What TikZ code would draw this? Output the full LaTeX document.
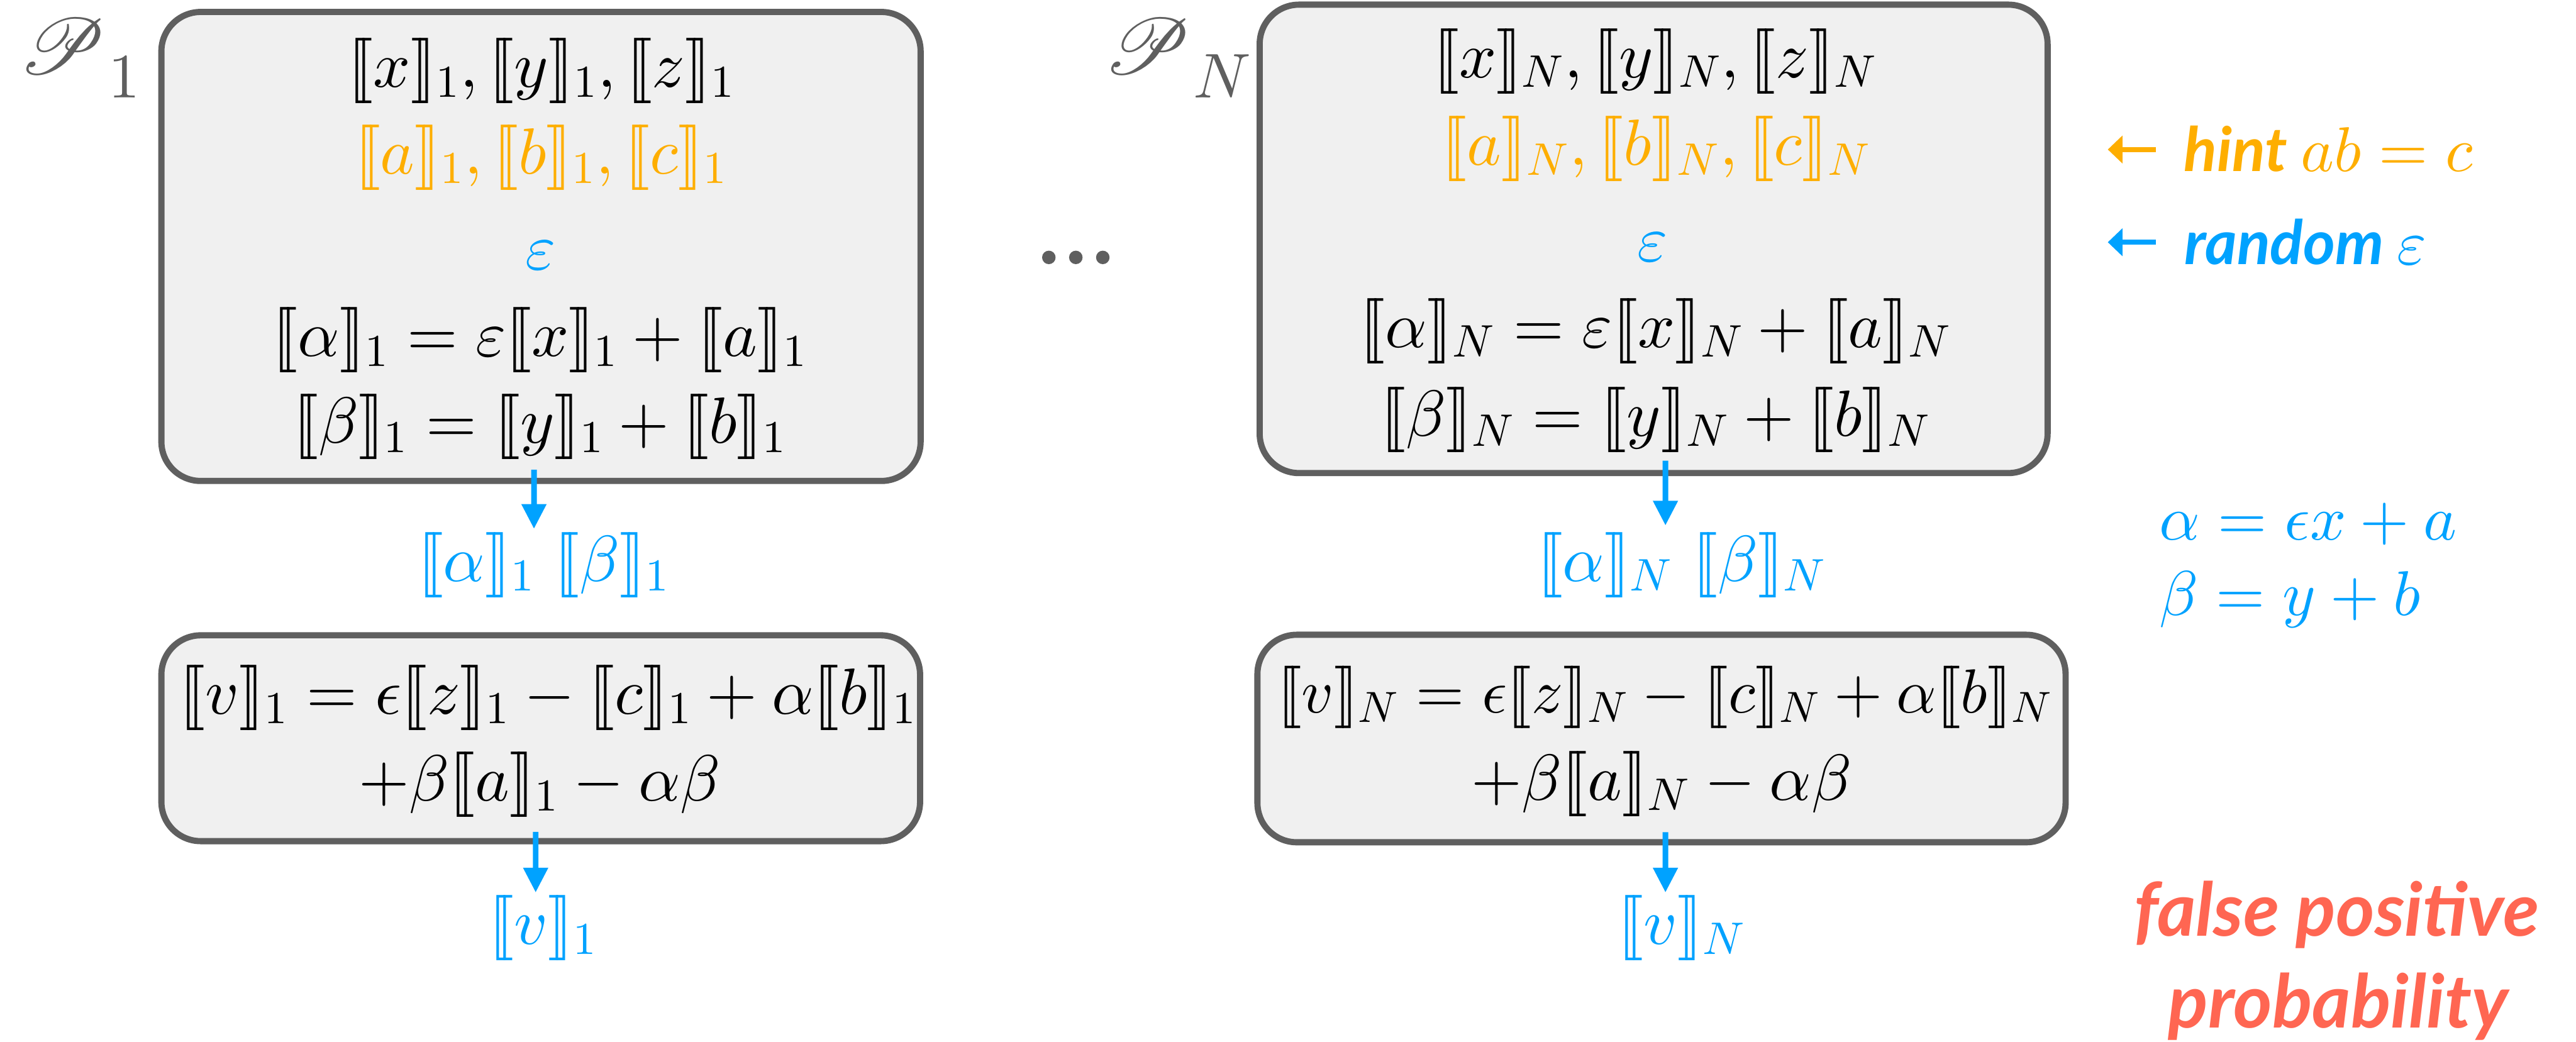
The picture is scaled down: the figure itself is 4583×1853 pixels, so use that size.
\documentclass[tikz,border=0pt]{standalone}
\usepackage[no-math]{fontspec}
\usepackage{mathrsfs}
\DeclareFontFamily{U}{rsfs}{\skewchar\font127 }
\DeclareFontShape{U}{rsfs}{m}{n}{<-> rsfs10}{}
\DeclareFontShape{OML}{cmm}{m}{it}{<-> cmmi10}{}
\DeclareFontShape{OMS}{cmsy}{m}{n}{<-> cmsy10}{}
\DeclareFontShape{OT1}{cmr}{m}{n}{<-> cmr10}{}
\DeclareFontShape{OMX}{cmex}{m}{n}{<-> cmex10}{}
\newfontfamily\lato{Lato}
\usetikzlibrary{arrows.meta}
\definecolor{boxgray}{HTML}{5F5F5F}
\definecolor{boxfill}{HTML}{F0F0F0}
\definecolor{myblue}{HTML}{00A2FF}
\definecolor{myorange}{HTML}{FEAE00}
\definecolor{mycoral}{HTML}{FF6652}
\newcommand{\shr}[2]{[\mkern-3mu[#1]\mkern-3mu]_{#2}}
\newcommand{\psub}[1]{\kern0.05cm\raisebox{-0.42cm}{\fontsize{32}{32}\selectfont$#1$}}
\tikzset{
  box/.style={draw=boxgray, fill=boxfill, line width=0.11cm, rounded corners=0.7cm, inner sep=0pt},
  mt/.style={font=\fontsize{33}{40}\selectfont, inner sep=0pt, anchor=base},
  side/.style={font=\fontsize{32}{40}\selectfont, inner sep=0pt, anchor=base west},
  plabel/.style={font=\fontsize{40}{48}\selectfont, inner sep=0pt, anchor=base west, text=boxgray},
  ann/.style={font=\fontsize{31}{38}\selectfont\lato\bfseries\itshape, inner sep=0pt, anchor=base west},
  fpp/.style={font=\fontsize{37.5}{44}\selectfont\lato\bfseries\itshape, inner sep=0pt, anchor=base, text=mycoral},
  arr/.style={draw=myblue, line width=0.1cm, -{Triangle[length=0.44cm,width=0.42cm]}},
  annarr/.style={line width=0.09cm, -{Triangle[length=0.26cm,width=0.48cm]}},
}
\begin{document}
\begin{tikzpicture}[x=0.01cm,y=-0.01cm]
\fill[white] (0,0) rectangle (4583,1853);
\useasboundingbox (0,0) rectangle (4583,1853);

% boxes
\node[box, minimum width=13.5cm, minimum height=8.34cm] (b1) at (962.5,438.5) {};
\node[box, minimum width=13.49cm, minimum height=3.66cm] (b2) at (962,1313.5) {};
\node[box, minimum width=14.01cm, minimum height=8.33cm] (b3) at (2942,425) {};
\node[box, minimum width=14.37cm, minimum height=3.69cm] (b4) at (2956,1314) {};

% party labels
\node[plabel] (p1) at (33,132) {$\mathscr{P}$\psub{1}};
\node[plabel] (pN) at (1964,132) {$\mathscr{P}$\psub{N}};

% dots
\fill[boxgray] (1866,458) circle (12) (1914,458) circle (12) (1962,458) circle (12);

% box 1 text
\node[mt] (b1l1) at (963,155) {$\shr{x}{1}, \shr{y}{1}, \shr{z}{1}$};
\node[mt, text=myorange] (b1l2) at (963,309) {$\shr{a}{1}, \shr{b}{1}, \shr{c}{1}$};
\node[mt, text=myblue] (b1l3) at (962,479) {$\varepsilon$};
\node[mt] (b1l4) at (960,634) {$\shr{\alpha}{1} = \varepsilon\shr{x}{1} + \shr{a}{1}$};
\node[mt] (b1l5) at (960,788) {$\shr{\beta}{1} = \shr{y}{1} + \shr{b}{1}$};

% box 2 text
\node[mt] (b2l1) at (975,1270) {$\shr{v}{1} = \epsilon\shr{z}{1} - \shr{c}{1} + \alpha\shr{b}{1}$};
\node[mt] (b2l2) at (960,1425) {${+}\beta\shr{a}{1} - \alpha\beta$};

% box 3 text
\node[mt] (b3l1) at (2945,138) {$\shr{x}{N}, \shr{y}{N}, \shr{z}{N}$};
\node[mt, text=myorange] (b3l2) at (2946,294) {$\shr{a}{N}, \shr{b}{N}, \shr{c}{N}$};
\node[mt, text=myblue] (b3l3) at (2940,465) {$\varepsilon$};
\node[mt] (b3l4) at (2945,618) {$\shr{\alpha}{N} = \varepsilon\shr{x}{N} + \shr{a}{N}$};
\node[mt] (b3l5) at (2945,776) {$\shr{\beta}{N} = \shr{y}{N} + \shr{b}{N}$};

% box 4 text
\node[mt, font=\fontsize{31.5}{40}\selectfont] (b4l1) at (2962,1268) {$\shr{v}{N} = \epsilon\shr{z}{N} - \shr{c}{N} + \alpha\shr{b}{N}$};
\node[mt] (b4l2) at (2956,1424) {${+}\beta\shr{a}{N} - \alpha\beta$};

% outputs
\node[mt, text=myblue] (ab1) at (967,1034) {$\shr{\alpha}{1}\ \shr{\beta}{1}$};
\node[mt, text=myblue] (abN) at (2992,1034) {$\shr{\alpha}{N}\ \shr{\beta}{N}$};
\node[mt, text=myblue] (v1) at (966,1680) {$\shr{v}{1}$};
\node[mt, text=myblue] (vN) at (2992,1680) {$\shr{v}{N}$};

% arrows
\coordinate (t1) at (950,941);
\coordinate (t2) at (953,1588);
\coordinate (t3) at (2963,935);
\coordinate (t4) at (2963,1588);
\draw[arr] ([xshift=-0.125cm,yshift=0.255cm]b1.south) -- (t1);
\draw[arr] ([xshift=-0.09cm,yshift=0.22cm]b2.south) -- (t2);
\draw[arr] ([xshift=0.21cm,yshift=0.275cm]b3.south) -- (t3);
\draw[arr] ([xshift=0.07cm,yshift=0.235cm]b4.south) -- (t4);

% side annotations
\node[ann, text=myorange] (hint) at (3885,305) {hint \textnormal{\fontsize{32}{40}\selectfont$ab = c$}};
\node[ann, text=myblue] (rand) at (3886,470) {random \textnormal{\fontsize{32}{40}\selectfont$\varepsilon$}};
\coordinate (h0) at (3835,266);
\coordinate (h1) at (3750,266);
\coordinate (r0) at (3835,431);
\coordinate (r1) at (3750,431);
\draw[annarr, draw=myorange, fill=myorange] (h0) -- (h1);
\draw[annarr, draw=myblue, fill=myblue] (r0) -- (r1);

\node[side, text=myblue] (aeq) at (3841,960) {$\alpha = \epsilon x + a$};
\node[side, text=myblue] (beq) at (3841,1095) {$\beta = y + b$};

\node[fpp] (fp1) at (4157,1666) {false positive};
\node[fpp] (fp2) at (4160,1829) {probability};
\end{tikzpicture}
\end{document}
